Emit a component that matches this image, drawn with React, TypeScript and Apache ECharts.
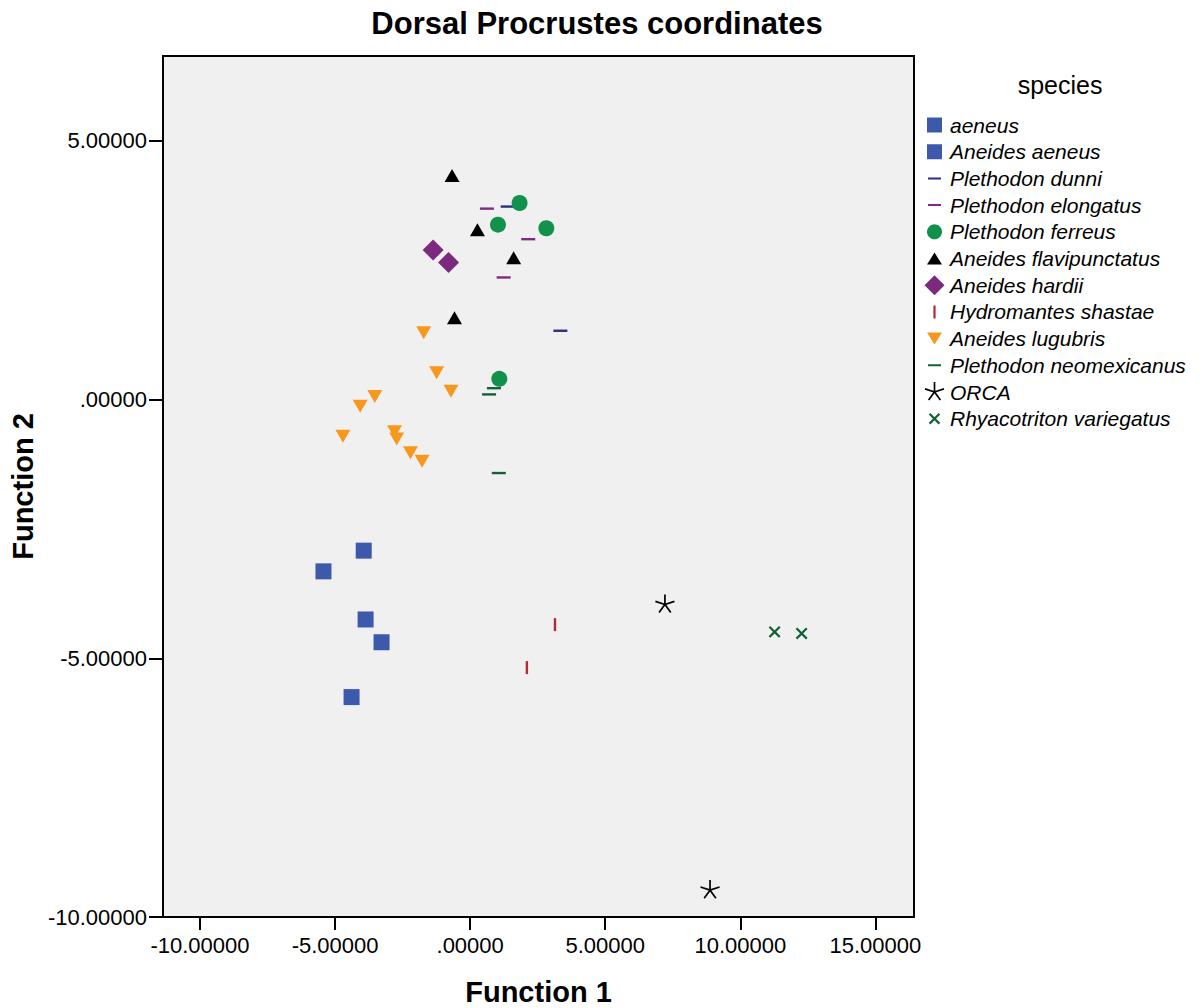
import React, { useEffect, useRef } from "react";
import * as echarts from "echarts";

// ---- Data ----
const xTicks = [-10, -5, 0, 5, 10, 15];
const yTicks = [-10, -5, 0, 5];

const aeneus = [[-3.94, -2.92]];
const aneidesAeneus = [[-5.43, -3.32], [-3.87, -4.25], [-3.28, -4.69], [-4.39, -5.75]];
const plethodonDunni = [[1.39, 3.73], [3.34, 1.33]];
const plethodonElongatus = [[0.62, 3.69], [2.15, 3.1], [1.24, 2.36]];
const plethodonFerreus = [[1.83, 3.8], [1.03, 3.38], [2.82, 3.31], [1.08, 0.4]];
const aneidesFlavipunctatus = [[-0.67, 4.33], [0.27, 3.28], [1.61, 2.74], [-0.58, 1.58]];
const aneidesHardii = [[-1.37, 2.89], [-0.8, 2.65]];
const hydromantesShastae = [[3.14, -4.35], [2.1, -5.18]];
const aneidesLugubris = [
  [-1.72, 1.29], [-1.24, 0.52], [-0.71, 0.16], [-3.53, 0.06], [-4.07, -0.13],
  [-4.71, -0.71], [-2.8, -0.62], [-2.72, -0.76], [-2.21, -1.03], [-1.78, -1.19],
];
const plethodonNeomexicanus = [[0.88, 0.22], [0.7, 0.1], [1.06, -1.42]];
const orca = [[7.21, -3.96], [8.88, -9.48]];
const rhyacotritonVariegatus = [[11.27, -4.49], [12.27, -4.52]];

const FONT = "'Liberation Sans', Arial, Helvetica, sans-serif";

// ---- symbol helpers ----
const f = (n: number) => n.toFixed(3);
function anchors(size: number): string {
  const e = 0.01;
  return `M0,0h${e}v${e}h-${e}Z M${f(size - e)},${f(size - e)}h${e}v${e}h-${e}Z `;
}
function arms(anglesDeg: number[], len: number, thick: number, c: number): string {
  let d = "";
  for (const a of anglesDeg) {
    const r = (a * Math.PI) / 180;
    const ux = Math.cos(r), uy = Math.sin(r);
    const px = (-uy * thick) / 2, py = (ux * thick) / 2;
    const sx = c - (ux * thick) / 2, sy = c - (uy * thick) / 2;
    const ex = c + ux * len, ey = c + uy * len;
    d += `M${f(sx + px)},${f(sy + py)}L${f(ex + px)},${f(ey + py)}L${f(ex - px)},${f(ey - py)}L${f(sx - px)},${f(sy - py)}Z `;
  }
  return d;
}
function circlePath(c: number, r: number): string {
  let d = "";
  const n = 40;
  for (let i = 0; i < n; i++) {
    const t = (i / n) * Math.PI * 2;
    d += (i === 0 ? "M" : "L") + f(c + r * Math.cos(t)) + "," + f(c + r * Math.sin(t));
  }
  return d + "Z ";
}
const STAR_ANGLES = [-90, -18, 54, 126, 198];
const X_ANGLES = [45, 135, 225, 315];

const starSymbol = "path://" + anchors(20) + arms(STAR_ANGLES, 10, 1.7, 10);
const xSymbol = "path://" + anchors(16) + arms(X_ANGLES, 7.3, 2.2, 8);

// legend icons in a 21x21 box
const L = 21;
const lc = L / 2;
const legendIcons: Record<string, string> = {
  square: "path://" + anchors(L) + `M3,3h15v15h-15Z`,
  dash: "path://" + anchors(L) + `M4,9.5h13v2h-13Z`,
  circle: "path://" + anchors(L) + circlePath(lc, 7.5),
  triUp: "path://" + anchors(L) + `M3,16.5L10.5,4.5L18,16.5Z`,
  diamond: "path://" + anchors(L) + `M10.5,0.5L20.5,10.5L10.5,20.5L0.5,10.5Z`,
  vtick: "path://" + anchors(L) + `M9.4,4h2.2v13h-2.2Z`,
  triDown: "path://" + anchors(L) + `M3,4.5L18,4.5L10.5,16.5Z`,
  star: "path://" + anchors(L) + arms(STAR_ANGLES, 10, 1.7, lc),
  x: "path://" + anchors(L) + arms(X_ANGLES, 7.0, 2.2, lc),
};

type Spec = {
  name: string;
  data: number[][];
  color: string;
  symbol: string;
  size: number | number[];
  rotate?: number;
  icon: string;
};

const specs: Spec[] = [
  { name: "aeneus", data: aeneus, color: "#3D59AB", symbol: "rect", size: 16, icon: legendIcons.square },
  { name: "Aneides aeneus", data: aneidesAeneus, color: "#3D59AB", symbol: "rect", size: 16, icon: legendIcons.square },
  { name: "Plethodon dunni", data: plethodonDunni, color: "#2C2F80", symbol: "rect", size: [14, 2.4], icon: legendIcons.dash },
  { name: "Plethodon elongatus", data: plethodonElongatus, color: "#7D2C82", symbol: "rect", size: [14, 2.4], icon: legendIcons.dash },
  { name: "Plethodon ferreus", data: plethodonFerreus, color: "#12914B", symbol: "circle", size: 16, icon: legendIcons.circle },
  { name: "Aneides flavipunctatus", data: aneidesFlavipunctatus, color: "#000000", symbol: "triangle", size: [15, 13], icon: legendIcons.triUp },
  { name: "Aneides hardii", data: aneidesHardii, color: "#7B2A7E", symbol: "diamond", size: [21, 21], icon: legendIcons.diamond },
  { name: "Hydromantes shastae", data: hydromantesShastae, color: "#B22A35", symbol: "rect", size: [2.4, 13], icon: legendIcons.vtick },
  { name: "Aneides lugubris", data: aneidesLugubris, color: "#F7981E", symbol: "triangle", size: [15, 13], rotate: 180, icon: legendIcons.triDown },
  { name: "Plethodon neomexicanus", data: plethodonNeomexicanus, color: "#17603A", symbol: "rect", size: [14, 2.4], icon: legendIcons.dash },
  { name: "ORCA", data: orca, color: "#000000", symbol: starSymbol, size: 20, icon: legendIcons.star },
  { name: "Rhyacotriton variegatus", data: rhyacotritonVariegatus, color: "#116034", symbol: xSymbol, size: 16, icon: legendIcons.x },
];

const fmt = (v: number) => {
  const s = Number(v).toFixed(5);
  return s.replace(/^(-?)0\./, "$1.");
};

export default function App() {
  const ref = useRef<HTMLDivElement>(null);
  useEffect(() => {
    document.body.style.margin = "0";
    if (!ref.current) return;
    const chart = echarts.init(ref.current, null, { renderer: "svg" });
    const option: any = {
      animation: false,
      backgroundColor: "#ffffff",
      title: [
        {
          text: "Dorsal Procrustes coordinates",
          left: 592,
          textAlign: "center",
          top: 3,
          textStyle: { fontFamily: FONT, fontSize: 31, fontWeight: "bold", color: "#000" },
        },
        {
          text: "species",
          left: 1055,
          textAlign: "center",
          top: 67,
          textStyle: { fontFamily: FONT, fontSize: 25, fontWeight: "normal", color: "#000" },
        },
      ],
      legend: {
        orient: "vertical",
        left: 919,
        top: 109.5,
        itemWidth: L,
        itemHeight: L,
        itemGap: 5.7,
        align: "left",
        selectedMode: false,
        textStyle: { fontFamily: FONT, fontSize: 21, fontStyle: "italic", color: "#000" },
        data: specs.map((s) => ({ name: s.name, icon: s.icon })),
      },
      grid: {
        left: 163,
        right: 288,
        top: 56,
        bottom: 91,
        show: true,
        backgroundColor: "#F0F0F0",
        borderColor: "#000",
        borderWidth: 2,
        outerBoundsMode: "none",
        containLabel: false,
      },
      xAxis: {
        type: "value",
        min: -11.37,
        max: 16.43,
        name: "Function 1",
        nameLocation: "middle",
        nameGap: 60,
        nameTextStyle: { fontFamily: FONT, fontSize: 29, fontWeight: "bold", color: "#000" },
        axisLine: { show: true, onZero: false, lineStyle: { color: "#000", width: 2 } },
        axisTick: { show: true, length: 13, customValues: xTicks, lineStyle: { color: "#000", width: 2 } },
        axisLabel: {
          customValues: xTicks,
          margin: 17,
          formatter: fmt,
          fontFamily: FONT,
          fontSize: 22,
          color: "#000",
        },
        splitLine: { show: false },
      },
      yAxis: {
        type: "value",
        min: -10,
        max: 6.64,
        name: "Function 2",
        nameLocation: "middle",
        nameGap: 121,
        nameRotate: 90,
        nameTextStyle: { fontFamily: FONT, fontSize: 29, fontWeight: "bold", color: "#000" },
        axisLine: { show: true, onZero: false, lineStyle: { color: "#000", width: 2 } },
        axisTick: { show: true, length: 14, customValues: yTicks, lineStyle: { color: "#000", width: 2 } },
        axisLabel: {
          customValues: yTicks,
          margin: 16,
          formatter: fmt,
          fontFamily: FONT,
          fontSize: 22,
          color: "#000",
        },
        splitLine: { show: false },
      },
      series: specs.map((s) => ({
        name: s.name,
        type: "scatter",
        data: s.data,
        symbol: s.symbol,
        symbolSize: s.size,
        symbolRotate: s.rotate || 0,
        itemStyle: { color: s.color, opacity: 1 },
        emphasis: { disabled: true },
      })),
    };
    chart.setOption(option);
    return () => chart.dispose();
  }, []);
  return (
    <div
      ref={ref}
      style={{ position: "absolute", left: 0, top: 0, width: 1202, height: 1008 }}
    />
  );
}
